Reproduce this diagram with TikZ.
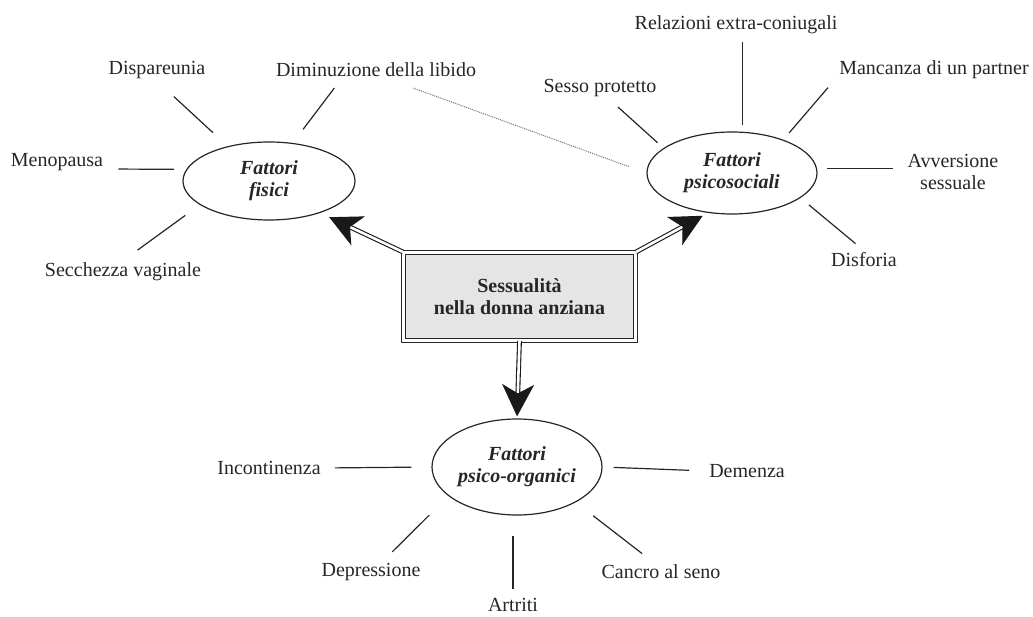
\documentclass[tikz,border=0pt]{standalone}
\usepackage{fontspec}
\setmainfont{Liberation Serif}
\usetikzlibrary{arrows.meta,shapes.geometric}
\newcommand\corpo{\fontsize{20}{22}\selectfont}
\tikzset{
  lbl/.style={inner sep=2pt, text=black!85, font=\corpo},
  fattori/.style={ellipse, draw=black!85, line width=1.2pt, fill=white, inner sep=0pt,
    align=center, text=black!85, font=\corpo\bfseries\itshape},
  centro/.style={rectangle, draw=black!85, line width=1pt, double=white, double distance=3pt,
    fill=black!10, minimum width=232pt, minimum height=88pt, align=center,
    text=black!85, font=\corpo\bfseries},
  spoke/.style={draw=black!85, line width=1.2pt},
  legame/.style={draw=black!55, line width=1pt, densely dotted},
  freccia/.style={draw=black!90, line width=1.1pt, double=white, double distance=2.6pt,
    -{Stealth[length=32pt,width=32pt,inset=9pt]}},
}
\begin{document}
\begin{tikzpicture}[x=1pt, y=-1pt]
  \useasboundingbox (0,0) rectangle (1033,617);
  % nodo centrale
  \node[centro] (sex) at (519.5,296.5) {Sessualità\\nella donna anziana};
  % tre gruppi di fattori
  \node[fattori, minimum width=172pt, minimum height=78pt] (fis) at (269,181) {Fattori\\fisici};
  \node[fattori, minimum width=170pt, minimum height=82pt] (psi) at (732,173) {Fattori\\psicosociali};
  \node[fattori, minimum width=170pt, minimum height=96pt] (org) at (517,467) {Fattori\\psico-organici};
  \draw[freccia, shorten >=10pt] (sex.north west) -- (fis.-32);
  \draw[freccia, shorten >=6pt] (sex.north east) -- (psi.-121);
  \draw[freccia, shorten >=2pt] (sex.south) -- (org.north);

  % fattori fisici
  \node[lbl] (disp) at (157,70) {Dispareunia};
  \node[lbl] (dimi) at (376,70) {Diminuzione della libido};
  \node[lbl] (meno) at (57,162) {Menopausa};
  \node[lbl] (secc) at (123,272) {Secchezza vaginale};
  \draw[spoke, shorten <=23pt, shorten >=20pt] (disp.south) -- (fis.140);
  \draw[spoke, shorten <=11pt, shorten >=17pt] ([xshift=-35pt]dimi.south) -- (fis.58);
  \draw[spoke, shorten <=13pt, shorten >=12pt] ([yshift=-7pt]meno.east) -- (fis.172);
  \draw[spoke, shorten <=18pt, shorten >=18pt] (secc.north) -- (fis.199);
  \draw[legame, shorten <=26pt, shorten >=18pt] ([xshift=13pt]dimi.south) -- (psi.west);

  % fattori psicosociali
  \node[lbl] (rel) at (736,25) {Relazioni extra-coniugali};
  \node[lbl] (ses) at (600,88) {Sesso protetto};
  \node[lbl] (man) at (934,70) {Mancanza di un partner};
  \node[lbl, align=center] (avv) at (953,172) {Avversione\\sessuale};
  \node[lbl] (dis) at (864,260) {Disforia};
  \draw[spoke, shorten <=7pt, shorten >=6pt] (psi.76) -- (psi.76 |- rel.south);
  \draw[spoke, shorten <=12pt, shorten >=8pt] ([xshift=9pt]ses.south) -- (psi.160);
  \draw[spoke, shorten <=14pt, shorten >=9pt] ([yshift=-7pt]man.west) -- (psi.33);
  \draw[spoke, shorten <=10pt, shorten >=12pt] (psi.3) -- (psi.3 -| avv.west);
  \draw[spoke, shorten <=11pt, shorten >=11pt] (dis.north) -- (psi.-20);

  % fattori psico-organici
  \node[lbl] (inc) at (269,468) {Incontinenza};
  \node[lbl] (dem) at (747,471) {Demenza};
  \node[lbl] (dep) at (371,572) {Depressione};
  \node[lbl] (art) at (513,605) {Artriti};
  \node[lbl] (can) at (661,572) {Cancro al seno};
  \draw[spoke, shorten <=12pt, shorten >=20pt] (inc.east) -- (org.west);
  \draw[spoke, shorten <=11pt, shorten >=18pt] (org.east) -- (dem.west);
  \draw[spoke, shorten <=13pt, shorten >=27pt] ([xshift=12pt]dep.north) -- (org.203);
  \draw[spoke, shorten <=7pt, shorten >=20pt] (art.north) -- (art.north |- org.south);
  \draw[spoke, shorten <=15pt, shorten >=22pt] ([xshift=-7pt]can.north) -- (org.-31);
\end{tikzpicture}
\end{document}
